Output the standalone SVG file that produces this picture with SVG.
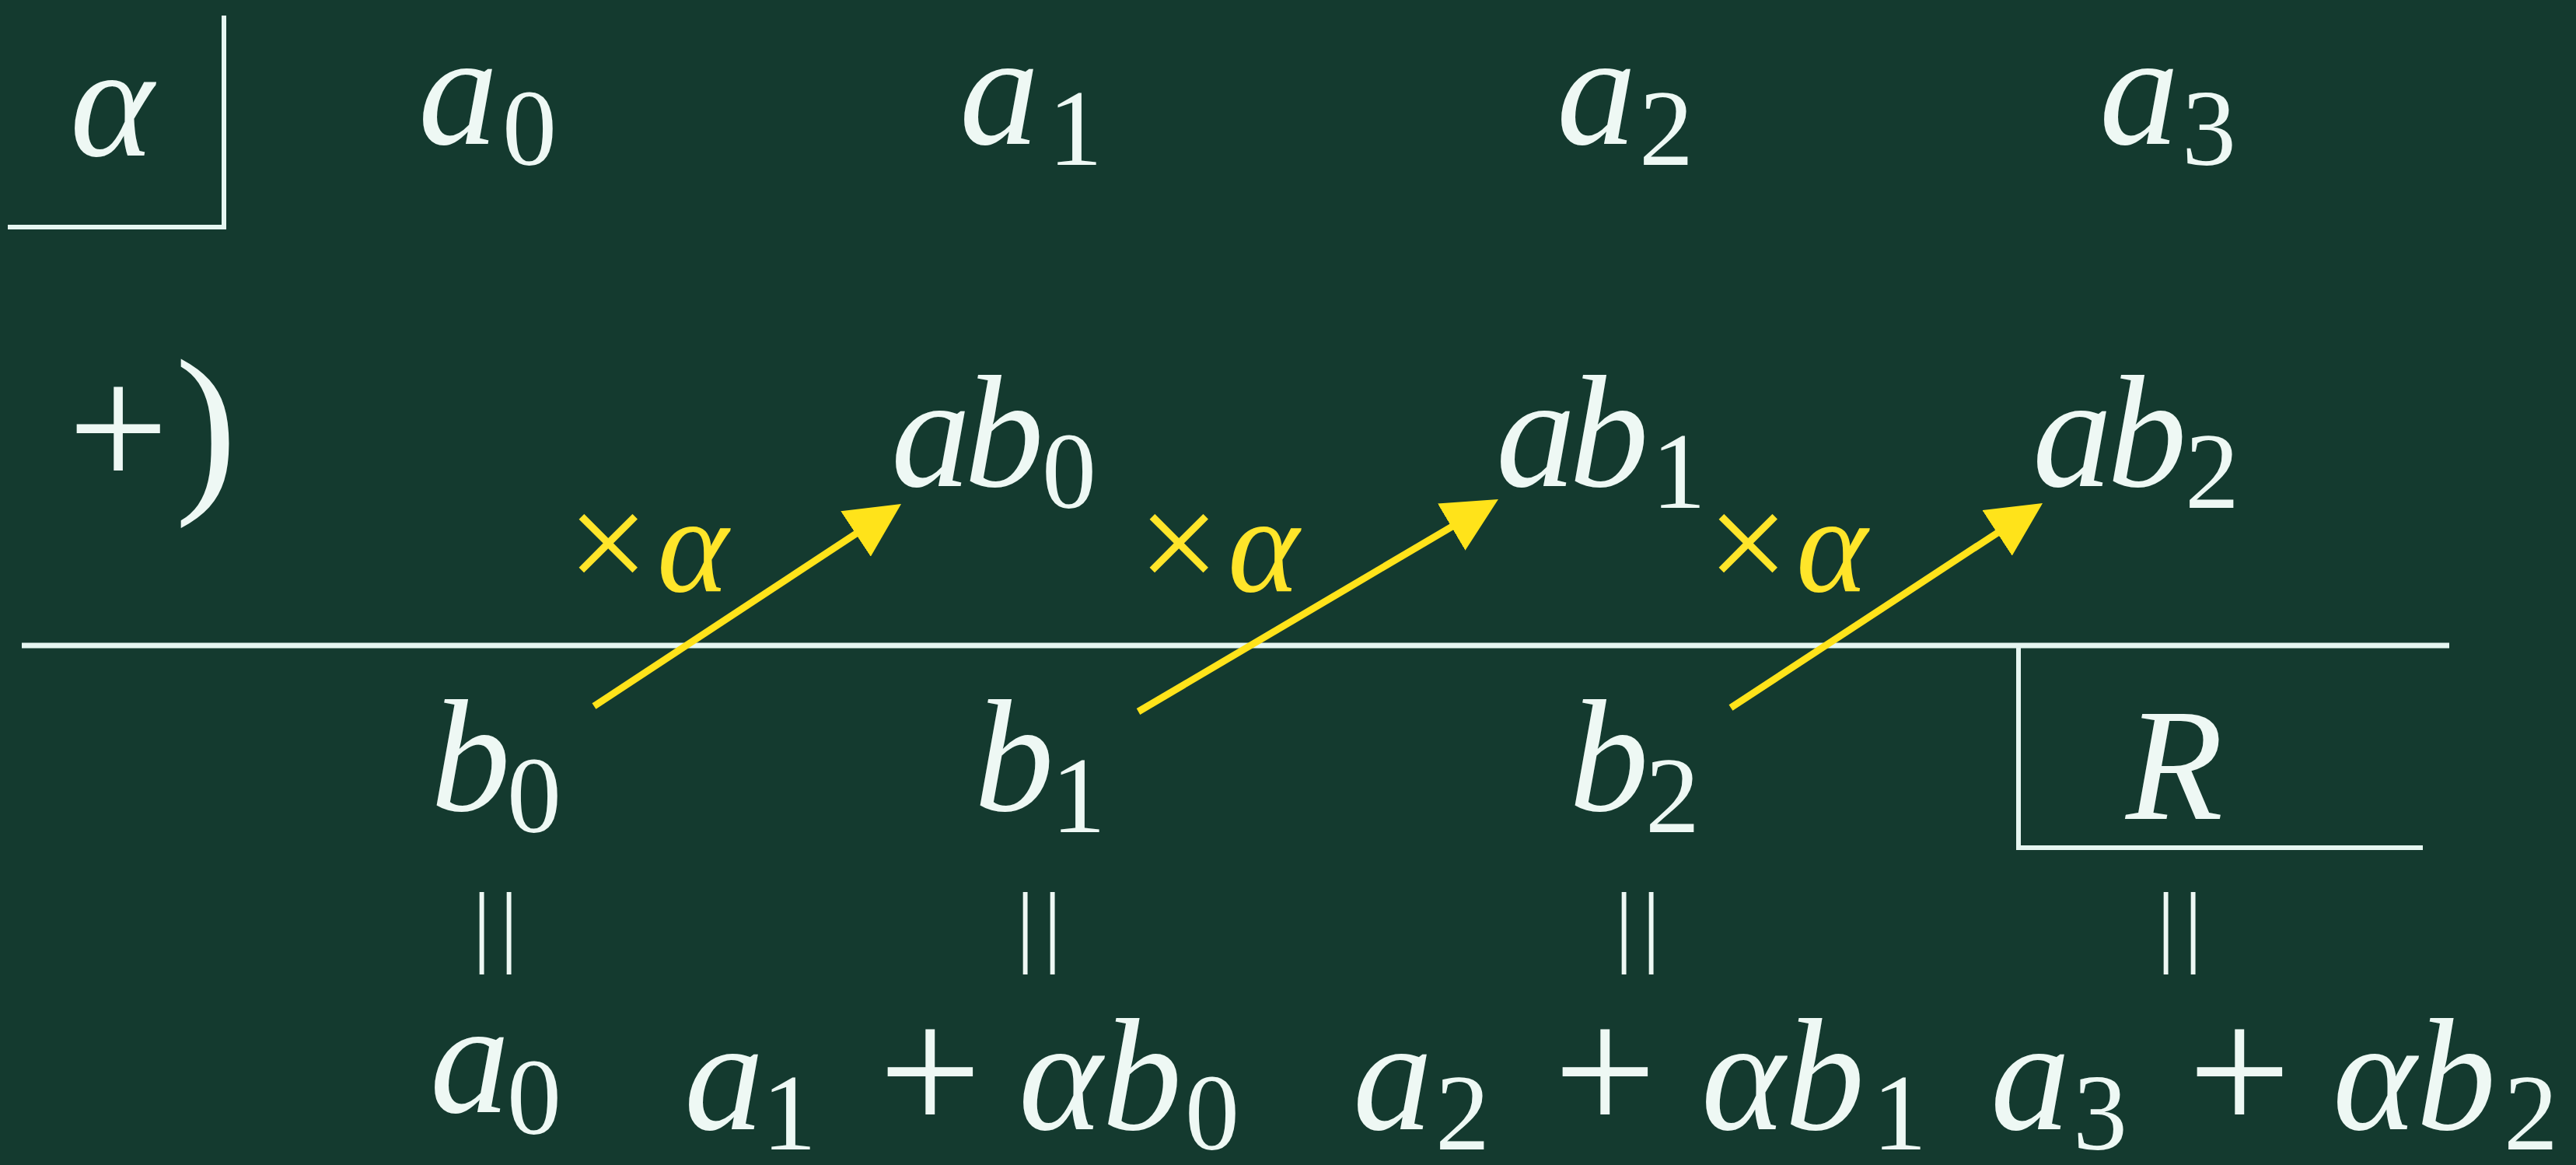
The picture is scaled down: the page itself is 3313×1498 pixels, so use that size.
<svg xmlns="http://www.w3.org/2000/svg" width="3313" height="1498" viewBox="0 0 3313 1498">
<style>
.t{font-family:"Liberation Serif","DejaVu Serif",serif;fill:#EEF8F4}
.i{font-style:italic;font-size:205px}
.s{font-size:140px}
.p{font-size:235px}
.y{fill:#FFE52A}
.ln{stroke:#E6F6F1;stroke-width:6;fill:none}
.ar{stroke:#FFE31A;stroke-width:9;fill:none;marker-end:url(#ah)}
.eq{font-size:116px}
</style>
<defs>
<marker id="ah" markerUnits="userSpaceOnUse" markerWidth="70" markerHeight="70" refX="30" refY="35" orient="auto" viewBox="0 0 70 70">
<path d="M0,0 L70,35 L0,70 z" fill="#FFE31A"/>
</marker>
</defs>
<rect width="3313" height="1498" fill="#143A2F"/>

<g id="alpha-box">
<path class="ln" d="M10,292 H288 V20"/>
<text class="t i" x="90" y="200">α</text>
</g>

<g id="row-a">
<text id="a0" class="t"><tspan class="i" x="538" y="185">a</tspan><tspan class="s" x="646" y="212">0</tspan></text>
<text id="a1" class="t"><tspan class="i" x="1234" y="185">a</tspan><tspan class="s" x="1348" y="212">1</tspan></text>
<text id="a2" class="t"><tspan class="i" x="2002" y="185">a</tspan><tspan class="s" x="2108" y="212">2</tspan></text>
<text id="a3" class="t"><tspan class="i" x="2700" y="185">a</tspan><tspan class="s" x="2806" y="212">3</tspan></text>
</g>

<g id="plus-sign">
<text class="t" x="152" y="628" text-anchor="middle" style="font-size:230px">+</text>
<text class="t" x="225" y="628" style="font-size:240px">)</text>
</g>

<g id="row-ab">
<text id="ab0" class="t"><tspan class="i" x="1146" y="625">a</tspan><tspan class="i" x="1240" y="625">b</tspan><tspan class="s" x="1340" y="653">0</tspan></text>
<text id="ab1" class="t"><tspan class="i" x="1924" y="625">a</tspan><tspan class="i" x="2018" y="625">b</tspan><tspan class="s" x="2124" y="653">1</tspan></text>
<text id="ab2" class="t"><tspan class="i" x="2614" y="625">a</tspan><tspan class="i" x="2710" y="625">b</tspan><tspan class="s" x="2810" y="653">2</tspan></text>
</g>

<g id="labels">
<text class="t y" x="730" y="760"><tspan style="font-size:185px">×</tspan><tspan class="i" style="font-size:175px" x="845">α</tspan></text>
<text class="t y" x="1464" y="760"><tspan style="font-size:185px">×</tspan><tspan class="i" style="font-size:175px" x="1579">α</tspan></text>
<text class="t y" x="2196" y="760"><tspan style="font-size:185px">×</tspan><tspan class="i" style="font-size:175px" x="2310">α</tspan></text>
</g>

<g id="rule">
<line class="ln" x1="28" y1="830" x2="3150" y2="830" style="stroke-width:7"/>
</g>

<g id="connectors">
<line class="ar" x1="764" y1="908" x2="1125.6" y2="670"/>
<line class="ar" x1="1464" y1="915" x2="1892.5" y2="662.3"/>
<line class="ar" x1="2226" y1="910" x2="2593.6" y2="668.9"/>
</g>

<g id="row-b">
<text id="b0" class="t"><tspan class="i" x="554" y="1042">b</tspan><tspan class="s" x="652" y="1070">0</tspan></text>
<text id="b1" class="t"><tspan class="i" x="1253" y="1042">b</tspan><tspan class="s" x="1352" y="1070">1</tspan></text>
<text id="b2" class="t"><tspan class="i" x="2018" y="1042">b</tspan><tspan class="s" x="2116" y="1070">2</tspan></text>
</g>

<g id="remainder-box">
<path class="ln" d="M2596,830 V1090 H3116"/>
<text class="t i" x="2734" y="1053">R</text>
</g>

<g id="equals">
<text class="t eq" x="608 643" y="1228">||</text>
<text class="t eq" x="1307 1342" y="1228">||</text>
<text class="t eq" x="2077 2112" y="1228">||</text>
<text class="t eq" x="2774 2809" y="1228">||</text>
</g>

<g id="row-result">
<text id="r0" class="t"><tspan class="i" x="553" y="1430">a</tspan><tspan class="s" x="652" y="1458">0</tspan></text>
<text id="r1" class="t"><tspan class="i" x="880" y="1452">a</tspan><tspan class="s" x="980" y="1478">1</tspan><tspan class="p" x="1130" y="1456">+</tspan><tspan class="i" x="1310" y="1452">αb</tspan><tspan class="s" x="1524" y="1478">0</tspan></text>
<text id="r2" class="t"><tspan class="i" x="1740" y="1452">a</tspan><tspan class="s" x="1846" y="1478">2</tspan><tspan class="p" x="1998" y="1456">+</tspan><tspan class="i" x="2188" y="1452">αb</tspan><tspan class="s" x="2408" y="1478">1</tspan></text>
<text id="r3" class="t"><tspan class="i" x="2560" y="1452">a</tspan><tspan class="s" x="2666" y="1478">3</tspan><tspan class="p" x="2814" y="1456">+</tspan><tspan class="i" x="3000" y="1452">αb</tspan><tspan class="s" x="3220" y="1478">2</tspan></text>
</g>
</svg>
